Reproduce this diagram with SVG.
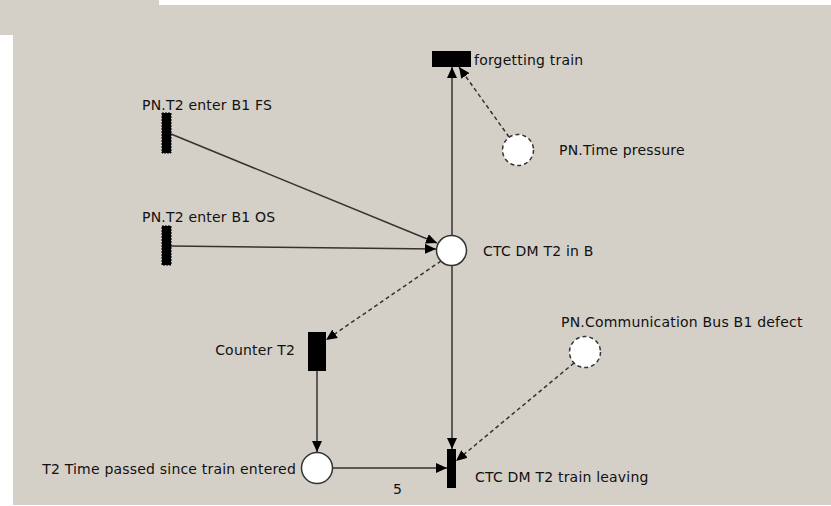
<svg xmlns="http://www.w3.org/2000/svg" width="831" height="506" viewBox="0 0 831 506">
  <style>
    .lbl { font-family: "DejaVu Sans", "Liberation Sans", sans-serif; font-size: 14px; letter-spacing: 0.2px; fill: #111; }
    .end { text-anchor: end; }
    .arc { stroke: #333; stroke-width: 1.5; fill: none; marker-end: url(#head); }
    .dash { stroke-dasharray: 4 3; }
    .place { fill: #fff; stroke: #333; stroke-width: 1.5; }
    .trans { fill: #000; }
  </style>
  <defs>
    <marker id="head" markerWidth="12" markerHeight="10" refX="11" refY="5" orient="auto" markerUnits="userSpaceOnUse">
      <path d="M0,0 L11,5 L0,10 Z" fill="#000"/>
    </marker>
  </defs>

  <!-- canvas -->
  <rect x="0" y="0" width="831" height="506" fill="#fff"/>
  <rect x="0" y="0" width="159" height="35" fill="#d4d0c8"/>
  <rect x="13" y="5" width="818" height="500" fill="#d4d0c8"/>

  <!-- connectors -->
  <g id="arcs">
    <line class="arc" x1="452" y1="235" x2="452" y2="67"/>
    <line class="arc dash" x1="509" y1="137" x2="459" y2="67"/>
    <line class="arc" x1="171" y1="134" x2="437" y2="243"/>
    <line class="arc" x1="171" y1="246" x2="436" y2="249"/>
    <line class="arc dash" x1="441" y1="261" x2="326" y2="340"/>
    <line class="arc" x1="317" y1="371" x2="317" y2="452"/>
    <line class="arc" x1="333" y1="468" x2="447" y2="468"/>
    <line class="arc" x1="452" y1="266" x2="452" y2="449"/>
    <line class="arc dash" x1="574" y1="363" x2="456" y2="461"/>
    <text class="lbl" x="393" y="494">5</text>
  </g>

  <g id="forgetting-train">
    <rect class="trans" x="432" y="51" width="39" height="16"/>
    <text class="lbl" x="474" y="65">forgetting train</text>
  </g>

  <g id="time-pressure">
    <circle class="place dash" cx="518" cy="150" r="15.5"/>
    <text class="lbl" x="559" y="155">PN.Time pressure</text>
  </g>

  <g id="enter-fs">
    <rect class="trans" x="162" y="113" width="9" height="40" stroke="#000" stroke-width="1" stroke-dasharray="2 1"/>
    <text class="lbl" x="142" y="110">PN.T2 enter B1 FS</text>
  </g>

  <g id="enter-os">
    <rect class="trans" x="162" y="226" width="9" height="39" stroke="#000" stroke-width="1" stroke-dasharray="2 1"/>
    <text class="lbl" x="142" y="222">PN.T2 enter B1 OS</text>
  </g>

  <g id="in-b">
    <circle class="place" cx="451.5" cy="250.5" r="15"/>
    <text class="lbl" x="483" y="256">CTC DM T2 in B</text>
  </g>

  <g id="counter">
    <rect class="trans" x="308" y="332" width="18" height="39"/>
    <text class="lbl end" x="295" y="355">Counter T2</text>
  </g>

  <g id="comm-bus">
    <circle class="place dash" cx="585" cy="352" r="15.5"/>
    <text class="lbl" x="561" y="327">PN.Communication Bus B1 defect</text>
  </g>

  <g id="time-passed">
    <circle class="place" cx="317" cy="468" r="15.5"/>
    <text class="lbl end" x="296" y="474">T2 Time passed since train entered</text>
  </g>

  <g id="train-leaving">
    <rect class="trans" x="447" y="449" width="9" height="39"/>
    <text class="lbl" x="475" y="482">CTC DM T2 train leaving</text>
  </g>
</svg>
